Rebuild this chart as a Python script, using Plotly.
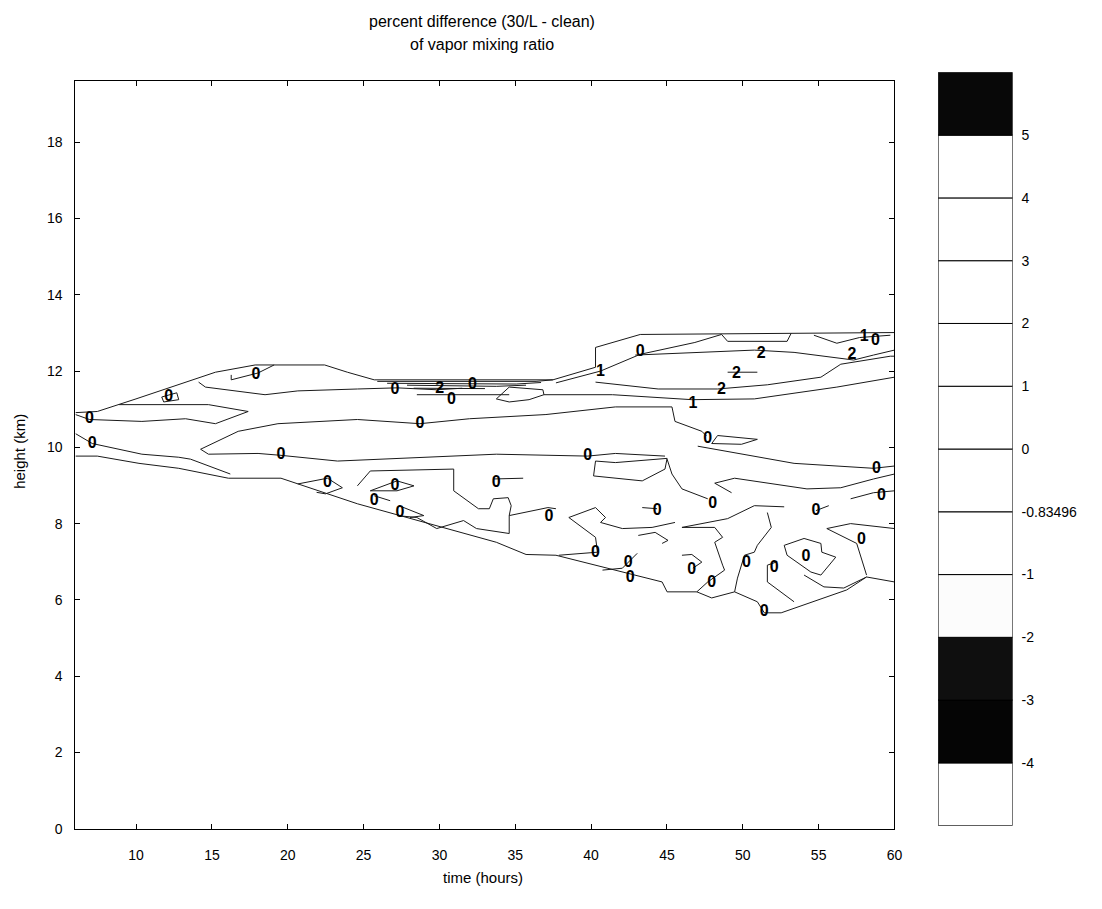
import plotly.graph_objects as go

# ---------------- contour lines: (time [h], height [km]) ----------------
edge_top = [(6.0, 10.91), (7.44, 10.94), (9.99, 11.27), (11.96, 11.53), (15.23, 11.97),
            (17.85, 12.16), (22.43, 12.16), (23.93, 11.97), (25.70, 11.77), (37.48, 11.77),
            (40.29, 12.10), (40.29, 12.62), (43.24, 12.96), (60.0, 13.01)]
edge_bottom = [(6.0, 9.77), (7.44, 9.77), (10.19, 9.58), (12.81, 9.45), (16.08, 9.19),
               (19.55, 9.19), (24.59, 8.52), (33.75, 7.51), (35.71, 7.19), (37.68, 7.17),
               (44.68, 6.47), (45.01, 6.21), (46.97, 6.21), (47.95, 6.05), (49.46, 6.21),
               (50.96, 5.95), (51.42, 5.66), (52.53, 5.66), (56.85, 6.26), (58.16, 6.60),
               (60.0, 6.47)]
left_lower = [(6.0, 10.36), (7.11, 10.10), (10.38, 9.82), (12.81, 9.74), (13.59, 9.69), (16.21, 9.30)]
left_tongue = [(8.88, 11.12), (11.50, 11.12), (14.77, 11.12), (17.39, 10.94), (15.23, 10.62),
               (13.26, 10.75), (10.38, 10.68), (6.92, 10.73), (6.0, 10.86)]
upper_band = [(14.12, 11.71), (14.57, 11.58), (18.50, 11.38), (20.66, 11.48), (24.59, 11.53),
              (27.20, 11.56), (29.82, 11.51), (31.50, 11.55)]
loop_a = [(11.69, 11.32), (12.68, 11.43), (12.81, 11.25), (11.82, 11.19), (11.69, 11.32)]
hook_b = [(16.27, 11.90), (16.27, 11.77), (18.04, 11.95), (19.10, 12.16)]

band_1 = [(25.90, 11.73), (36.37, 11.73), (37.48, 11.77)]
band_2 = [(26.55, 11.68), (35.06, 11.66), (36.70, 11.70)]
band_3 = [(27.86, 11.63), (33.75, 11.60), (35.71, 11.63)]
band_4 = [(28.30, 11.55), (33.00, 11.54)]
band_5 = [(28.51, 11.38), (34.60, 11.38)]
band_loop = [(34.60, 11.58), (36.82, 11.51), (36.89, 11.38), (35.91, 11.25), (34.60, 11.19),
             (33.75, 11.27), (34.60, 11.58)]

rise_zero = [(37.68, 11.69), (40.62, 12.0), (43.24, 12.44), (46.84, 12.75), (48.60, 12.96)]
two_mid = [(40.29, 11.71), (44.42, 11.53), (48.34, 11.53), (51.62, 11.64), (55.15, 11.84),
           (56.46, 12.18), (59.73, 12.39), (60.0, 12.39)]
one_line = [(36.89, 11.38), (37.68, 11.38), (41.41, 11.38), (46.64, 11.25), (50.76, 11.27),
            (56.20, 11.58), (60.0, 11.84)]
two_top = [(42.91, 12.42), (46.84, 12.49), (50.76, 12.55), (53.38, 12.49), (57.31, 12.29),
           (58.62, 12.42), (60.0, 12.55)]
two_dash = [(49.0, 11.97), (50.96, 11.97)]
top_cell_a = [(48.60, 12.96), (49.0, 12.78), (52.92, 12.78), (53.19, 12.99)]
top_cell_b = [(54.69, 12.94), (56.20, 12.73), (57.70, 12.88), (59.73, 12.94)]

mid_upper = [(14.25, 9.95), (16.73, 10.42), (19.35, 10.62), (24.59, 10.73), (28.71, 10.62),
             (31.98, 10.75), (37.02, 10.86), (41.60, 11.06), (45.33, 11.06), (45.53, 10.68),
             (47.30, 10.42), (47.60, 10.30)]
mid_lens = [(48.34, 10.31), (50.96, 10.21), (49.91, 10.08), (47.95, 10.10), (48.34, 10.31)]
mid_right = [(47.03, 10.03), (53.38, 9.58), (58.62, 9.45), (60.0, 9.51)]
mid_lower = [(14.25, 9.95), (14.77, 9.82), (18.04, 9.84), (19.55, 9.79), (23.28, 9.64),
             (27.20, 9.71), (33.75, 9.82), (39.77, 9.77), (41.60, 9.84), (44.87, 9.77)]
pocket = [(40.29, 9.64), (40.16, 9.25), (43.37, 9.12), (44.87, 9.43), (45.01, 9.71),
          (41.60, 9.60), (40.29, 9.64)]
pocket_tail = [(45.01, 9.69), (45.33, 9.30), (45.99, 8.91), (47.69, 8.65)]

right_a = [(48.15, 9.06), (49.46, 9.19), (54.23, 8.91), (56.46, 8.94), (58.62, 9.17), (60.0, 9.30)]
right_b = [(48.15, 9.06), (49.26, 8.81)]
right_zero = [(57.11, 8.65), (58.62, 8.81), (60.0, 8.86)]
right_tick = [(54.82, 8.34), (55.67, 8.47)]

low_p1 = [(20.66, 9.04), (22.62, 9.19), (23.60, 8.94), (22.49, 8.78), (21.90, 8.82)]
low_p2 = [(24.59, 8.99), (25.44, 9.38), (30.94, 9.43), (30.94, 8.86), (32.57, 8.39), (33.29, 8.39),
          (33.55, 8.65), (34.53, 8.68), (34.73, 8.47), (34.60, 8.21), (37.15, 8.42), (37.68, 8.39)]
low_p2b = [(34.60, 8.21), (34.60, 7.74), (32.44, 7.87), (31.59, 8.08), (29.82, 7.87),
           (28.51, 8.16), (27.20, 8.21)]
loop_c = [(25.44, 8.86), (27.20, 9.12), (28.32, 8.99), (27.20, 8.86), (25.44, 8.86)]
loop_d = [(25.70, 8.73), (26.75, 8.60)]
loop_e = [(27.33, 8.47), (28.97, 8.21), (28.06, 8.16)]
zero_dash = [(33.55, 9.17), (35.52, 9.19)]

low_p5a = [(38.53, 8.16), (40.29, 8.42), (40.95, 8.16), (40.62, 8.03), (42.06, 7.87),
           (44.02, 7.90), (45.53, 8.03)]
low_p5b = [(38.53, 8.16), (40.29, 7.64), (40.42, 7.25), (37.87, 7.17)]
low_p5c = [(43.37, 8.42), (44.35, 8.39)]
low_p5d = [(43.11, 7.69), (44.22, 7.77), (45.07, 7.56), (44.68, 7.48)]
low_p5e = [(40.75, 6.78), (42.06, 6.83), (43.04, 7.22)]
low_p6 = [(45.99, 7.90), (48.15, 7.90), (48.67, 7.64), (48.15, 7.51), (48.67, 6.91),
          (48.80, 6.78), (47.69, 6.47), (46.97, 6.21)]
low_p6b = [(45.99, 7.90), (49.0, 8.13), (50.76, 8.47), (52.73, 8.44)]
low_p6c = [(45.99, 7.17), (46.64, 7.19), (47.30, 6.99), (46.71, 6.83)]
low_p7 = [(51.62, 8.29), (51.88, 7.90), (50.96, 7.43), (50.76, 7.25), (50.11, 7.17),
          (49.65, 6.57), (49.46, 6.21)]
low_p7b = [(52.27, 7.00), (51.62, 6.91), (51.62, 6.47), (52.53, 6.21), (53.38, 5.95)]
low_p8 = [(52.73, 7.43), (54.04, 7.61), (55.15, 7.48), (55.21, 7.25), (56.13, 7.12),
          (55.15, 6.65), (54.49, 6.73), (52.92, 7.17), (52.73, 7.43)]
low_p8b = [(54.04, 6.65), (55.35, 6.34), (56.66, 6.31), (58.16, 6.60)]
low_p9 = [(55.54, 7.87), (57.11, 8.0), (60.0, 7.87)]
low_p9b = [(55.54, 7.87), (57.51, 7.48), (58.16, 6.65)]

contour_paths = [
    edge_top, edge_bottom, left_lower, left_tongue, upper_band, loop_a, hook_b,
    band_1, band_2, band_3, band_4, band_5, band_loop,
    rise_zero, two_mid, one_line, two_top, two_dash, top_cell_a, top_cell_b,
    mid_upper, mid_lens, mid_right, mid_lower, pocket, pocket_tail,
    right_a, right_b, right_zero, right_tick,
    low_p1, low_p2, low_p2b, loop_c, loop_d, loop_e, zero_dash,
    low_p5a, low_p5b, low_p5c, low_p5d, low_p5e, low_p6, low_p6b, low_p6c,
    low_p7, low_p7b, low_p8, low_p8b, low_p9, low_p9b,
]

# ---------------- contour labels ----------------
label_text = (["0"] * 34) + (["2"] * 5) + (["1"] * 3)
label_time = [6.92, 7.11, 12.15, 17.91, 19.55, 27.07, 30.80, 32.18, 28.71, 39.77, 43.24, 47.69,
              58.81, 22.62, 27.07, 25.70, 27.40, 33.75, 37.22, 40.29, 42.45, 42.58, 44.35, 46.64,
              47.95, 48.02, 50.24, 51.42, 52.07, 54.17, 54.82, 57.83, 59.14, 58.75,
              30.02, 48.60, 49.59, 51.22, 57.20,
              40.62, 46.71, 58.00]
label_height = [10.73, 10.10, 11.32, 11.90, 9.79, 11.51, 11.25, 11.64, 10.60, 9.77, 12.49, 10.23,
                9.43, 9.06, 8.99, 8.60, 8.29, 9.06, 8.16, 7.22, 6.96, 6.57, 8.34, 6.78,
                6.44, 8.52, 6.96, 5.69, 6.83, 7.12, 8.34, 7.56, 8.73, 12.80,
                11.53, 11.51, 11.92, 12.44, 12.42,
                11.97, 11.14, 12.90]

# ---------------- colour bar ----------------
level_labels = ["-4", "-3", "-2", "-1", "-0.83496", "0", "1", "2", "3", "4", "5"]
band_colors = ["#ffffff", "#050505", "#0f0f0f", "#fcfcfc", "#ffffff", "#ffffff",
               "#ffffff", "#ffffff", "#ffffff", "#ffffff", "#ffffff", "#080808"]

x_ticks = [10, 15, 20, 25, 30, 35, 40, 45, 50, 55, 60]
y_ticks = [0, 2, 4, 6, 8, 10, 12, 14, 16, 18]

W, H = 1102, 909
FONT = "Liberation Sans, Arial, sans-serif"

fig = go.Figure()
for path in contour_paths:
    fig.add_trace(go.Scatter(
        x=[p[0] for p in path], y=[p[1] for p in path], mode="lines",
        line=dict(color="#1a1a1a", width=1), hoverinfo="skip", showlegend=False))

fig.add_trace(go.Scatter(
    x=label_time, y=label_height, text=label_text, mode="text",
    textfont=dict(family="Liberation Sans Narrow, Liberation Sans, sans-serif",
                  size=16, color="black", weight="bold"),
    hoverinfo="skip", showlegend=False))

fig.add_trace(go.Bar(
    x=[0] * len(band_colors), y=[1] * len(band_colors), base=list(range(len(band_colors))),
    width=1, marker=dict(color=band_colors, line=dict(color="black", width=1)),
    xaxis="x2", yaxis="y2", hoverinfo="skip", showlegend=False))

tick_font = dict(family=FONT, size=14, color="black")
axis_common = dict(showgrid=False, zeroline=False, showline=True, linecolor="black",
                   linewidth=1, tickcolor="black", tickfont=tick_font)


def label(text, xp, yp, size, angle=0):
    return dict(text=text, x=xp / W, y=1 - yp / H, xref="paper", yref="paper",
                xanchor="center", yanchor="middle", showarrow=False, textangle=angle,
                font=dict(family=FONT, size=size, color="black"))


fig.update_layout(
    width=W, height=H, autosize=False, margin=dict(l=0, r=0, t=0, b=0, pad=0),
    paper_bgcolor="white", plot_bgcolor="white", showlegend=False, hovermode=False,
    font=dict(family=FONT, size=14, color="black"),
    barmode="overlay",
    xaxis=dict(domain=[76 / W, 901 / W], range=[6, 60], tickvals=x_ticks, ticks="inside",
               ticklen=5, mirror="ticks", ticklabelstandoff=14, anchor="y", **axis_common),
    yaxis=dict(domain=[1 - 836 / H, 1 - 82 / H], range=[0, 19.6], tickvals=y_ticks,
               ticks="inside", ticklen=5, mirror="ticks", ticklabelstandoff=9, anchor="x",
               **axis_common),
    xaxis2=dict(domain=[945 / W, 1020 / W], range=[-0.5, 0.5], showticklabels=False,
                ticks="", showgrid=False, zeroline=False, showline=False, anchor="y2"),
    yaxis2=dict(domain=[1 - 833 / H, 1 - 73 / H], range=[0, len(band_colors)], side="right",
                tickvals=list(range(1, len(level_labels) + 1)), ticktext=level_labels,
                ticks="", showgrid=False, zeroline=False, showline=False, anchor="x2",
                ticklabelstandoff=8, tickfont=tick_font),
    annotations=[
        label("percent difference (30/L - clean)", 486, 22, 16),
        label("of vapor mixing ratio", 486, 45, 16),
        label("time (hours)", 487, 885, 15),
        label("height (km)", 20, 455, 15, angle=-90),
    ],
)

fig.write_html(
    "out.html",
    post_script="document.documentElement.style.margin='0';"
                "document.body.style.margin='0';document.body.style.overflow='hidden';",
)
